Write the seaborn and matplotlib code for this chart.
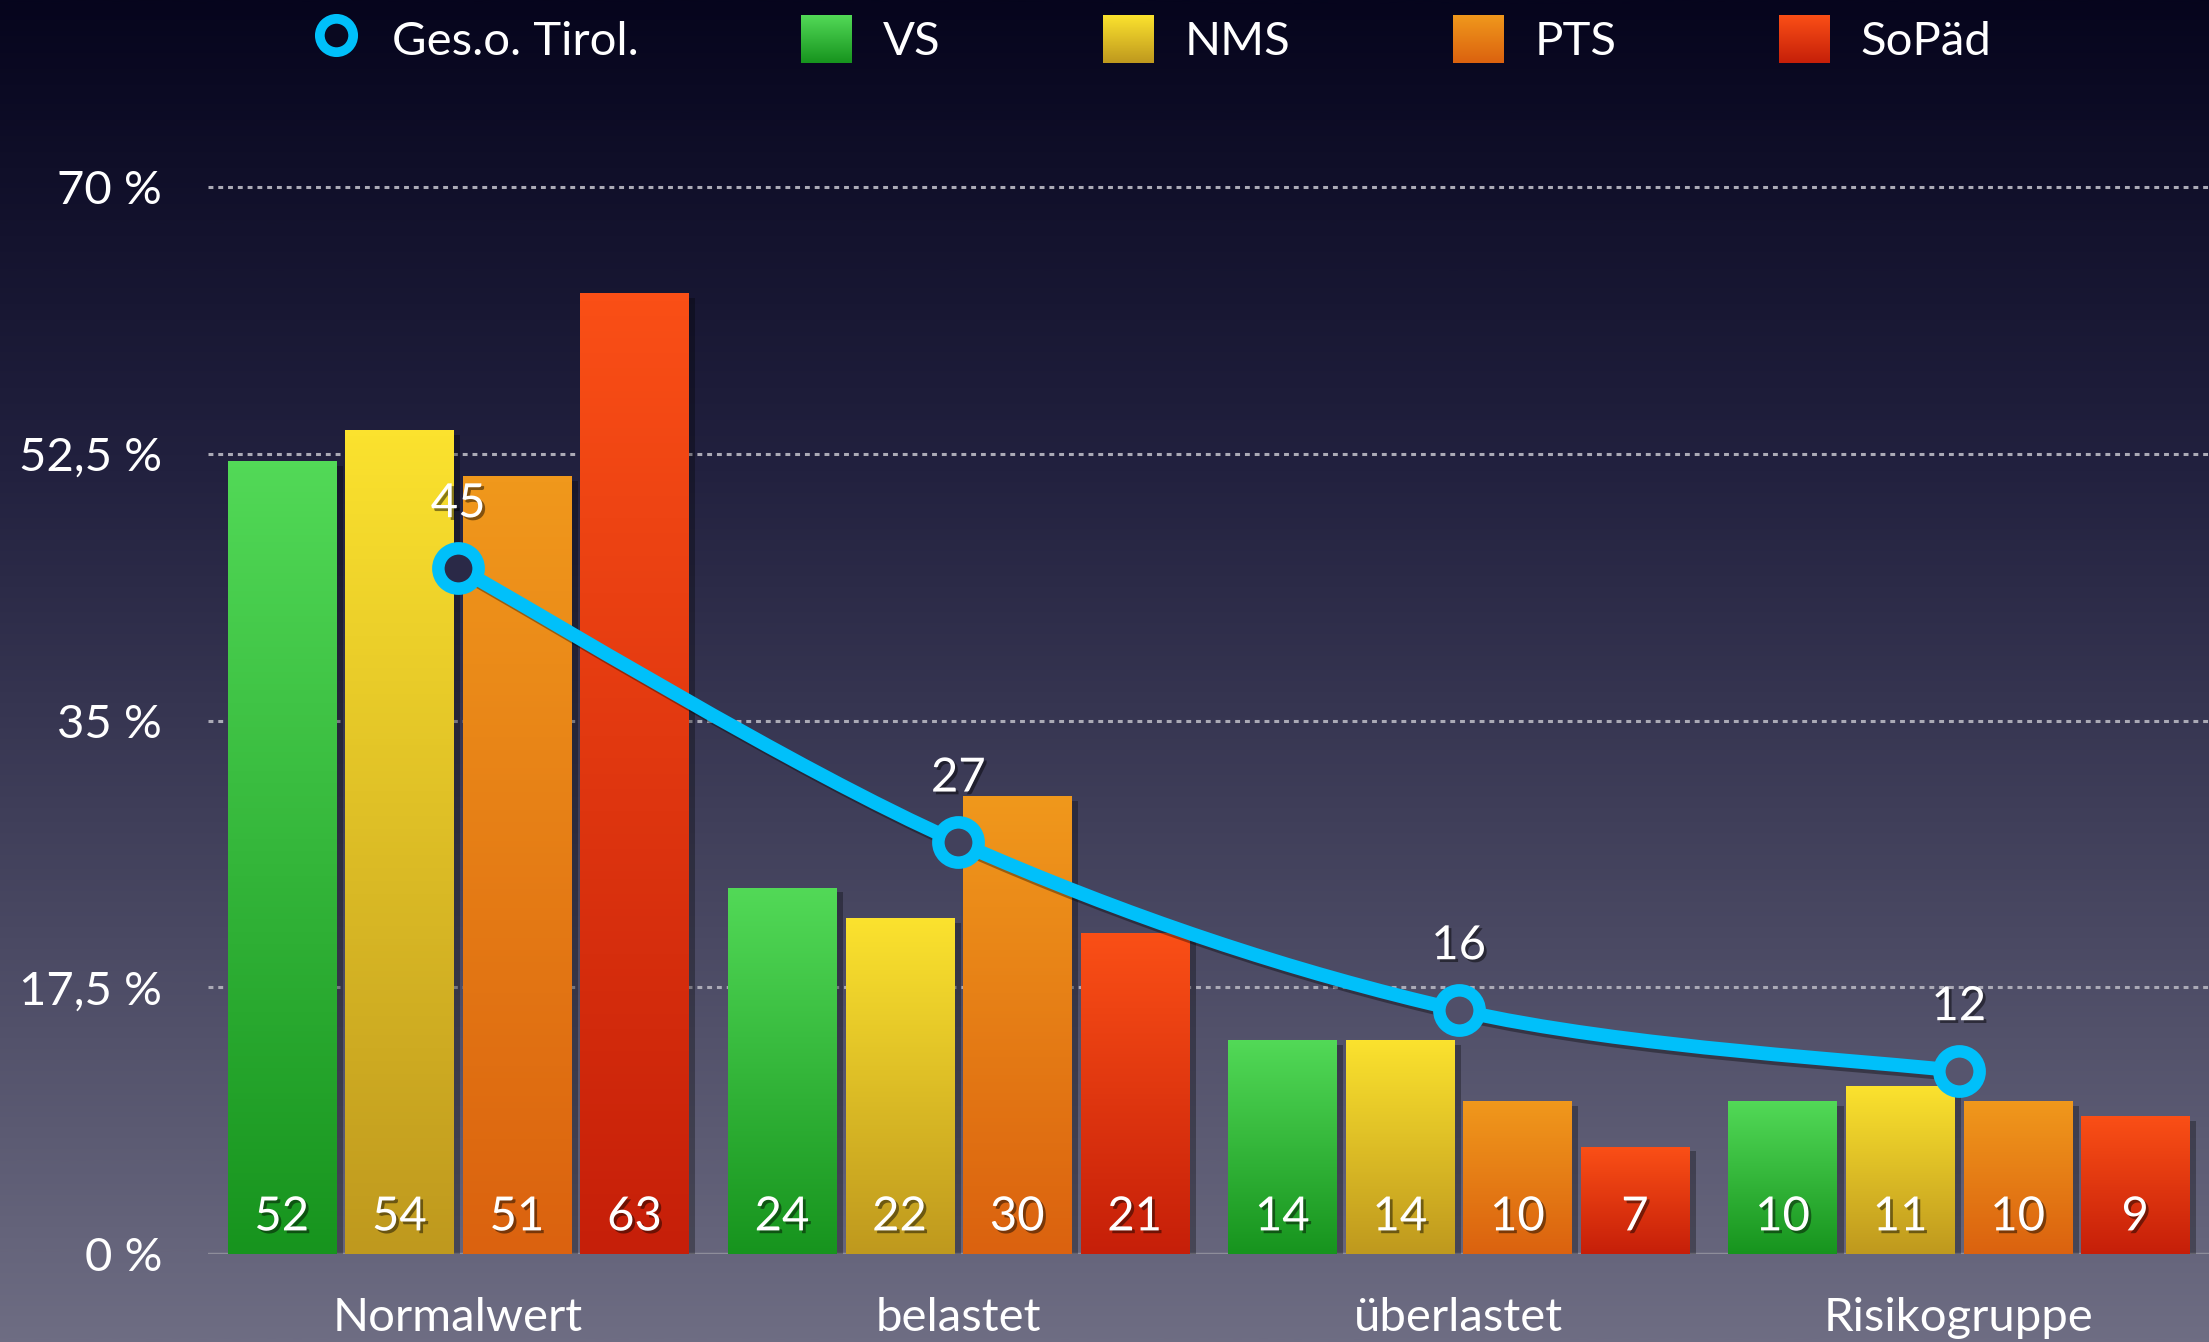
import numpy as np
import pandas as pd
import matplotlib
matplotlib.use("Agg")
import matplotlib.pyplot as plt
import matplotlib.patheffects as pe
from matplotlib.colors import LinearSegmentedColormap
from matplotlib.path import Path
from matplotlib.patches import PathPatch, Patch
from matplotlib.lines import Line2D
import seaborn as sns

# data
categories = ["Normalwert", "belastet", "überlastet", "Risikogruppe"]
schools = ["VS", "NMS", "PTS", "SoPäd"]
vs = [52, 24, 14, 10]
nms = [54, 22, 14, 11]
pts = [51, 30, 10, 10]
sopaed = [63, 21, 7, 9]
tirol = [45, 27, 16, 12]
line_label = "Ges.o. Tirol."
yticks = [0, 17.5, 35, 52.5, 70]
ytick_labels = ["0 %", "17,5 %", "35 %", "52,5 %", "70 %"]

# colours (top / bottom of each bar gradient)
top_cols = {"VS": "#52D957", "NMS": "#FBE22E", "PTS": "#F0981C", "SoPäd": "#FA4F16"}
bot_cols = {"VS": "#17941E", "NMS": "#BF991E", "PTS": "#DB620F", "SoPäd": "#C61F09"}
cyan = "#00C0FA"

rows = []
for i, cat in enumerate(categories):
    for name, vals in zip(schools, [vs, nms, pts, sopaed]):
        rows.append((cat, name, vals[i]))
df = pd.DataFrame(rows, columns=["Kategorie", "Schulart", "Wert"])

sns.set_theme(style="white")
plt.rcParams["font.family"] = ["Lato", "DejaVu Sans"]

W, H = 2209, 1342
fig = plt.figure(figsize=(W / 100, H / 100), dpi=100)

# background gradient
bg_cmap = LinearSegmentedColormap.from_list(
    "bg", [(0, "#06051D"), (0.35, "#22213F"), (0.7, "#4A4963"), (1, "#6E6D83")])
bg = fig.add_axes([0, 0, 1, 1], zorder=-10)
bg.imshow(np.linspace(0, 1, 512).reshape(-1, 1), cmap=bg_cmap, aspect="auto",
          extent=(0, 1, 0, 1), origin="upper")
bg.axis("off")

ax = fig.add_axes([208 / W, 1 - 1254 / H, 1 - 208 / W, 1254 / H])
ax.set_facecolor("none")

sns.barplot(data=df, x="Kategorie", y="Wert", hue="Schulart", hue_order=schools,
            order=categories, palette=bot_cols, saturation=1, width=0.94, gap=0.08,
            linewidth=0, legend=False, ax=ax, zorder=2)

shadow_txt = [pe.withSimplePatchShadow(offset=(2, -2), shadow_rgbFace="black", alpha=0.45)]
grads = {s: LinearSegmentedColormap.from_list(s, [bot_cols[s], top_cols[s]]) for s in schools}

for container, name, vals in zip(ax.containers, schools, [vs, nms, pts, sopaed]):
    for bar, v in zip(container, vals):
        x, w, h = bar.get_x(), bar.get_width(), bar.get_height()
        bar.set_path_effects([pe.SimplePatchShadow(offset=(5, -3), shadow_rgbFace="black", alpha=0.3),
                              pe.Normal()])
        ax.imshow(np.linspace(0, 1, 128).reshape(-1, 1), cmap=grads[name], origin="lower",
                  extent=(x, x + w, 0, h), aspect="auto", zorder=2.1)
        ax.text(x + w / 2, 2.4, str(v), ha="center", va="center", color="white",
                fontsize=34, zorder=5, path_effects=shadow_txt)

ax.set_xlim(-0.5, 3.5)
ax.set_ylim(0, 1254 * 70 / 1067)

# grid
for t in yticks[1:]:
    ax.axhline(t, color="#ABAAB6", lw=2.2, ls=(0, (1.6, 1.6)), zorder=0.5)
ax.axhline(0, color="#8E8D9A", lw=2.5, zorder=0.5)

# smooth line through the Tirol values (cubic Bezier rendering)
xy = np.column_stack([np.arange(len(tirol)), tirol]).astype(float)
ext = np.vstack([xy[0], xy, xy[-1]])
verts = [xy[0]]
codes = [Path.MOVETO]
for i in range(len(xy) - 1):
    p0, p1, p2, p3 = ext[i], ext[i + 1], ext[i + 2], ext[i + 3]
    verts += [p1 + (p2 - p0) / 6, p2 - (p3 - p1) / 6, p2]
    codes += [Path.CURVE4] * 3
curve = PathPatch(Path(verts, codes), fill=False, edgecolor=cyan, lw=10,
                  capstyle="round", zorder=6)
curve.set_path_effects([pe.SimpleLineShadow(offset=(3, -3), shadow_color="black", alpha=0.35),
                        pe.Normal()])
ax.add_patch(curve)

for i, v in enumerate(tirol):
    px, py = ax.transData.transform((i, v))
    face = bg_cmap(1 - py / H)
    ax.plot(i, v, "o", ms=29, mew=9, mec=cyan, mfc=face, zorder=7)
    ax.annotate(str(v), (i, v), xytext=(0, 46), textcoords="offset points",
                ha="center", va="center", fontsize=34, color="white", zorder=8,
                path_effects=shadow_txt)

ax.set_yticks(yticks, ytick_labels)
ax.set_xlabel("")
ax.set_ylabel("")
ax.tick_params(axis="both", colors="white", labelsize=34, length=0)
ax.tick_params(axis="y", pad=33)
ax.tick_params(axis="x", pad=31)
for s in ax.spines.values():
    s.set_visible(False)

# legend
handles = [Line2D([], [], marker="o", ls="none", ms=24, mew=7, mec=cyan, mfc="#0A0920")]
handles += [Patch(facecolor=bot_cols[s], linewidth=0) for s in schools]
leg = fig.legend(handles, [line_label] + schools, loc="center", bbox_to_anchor=(0.521, 0.971),
                 ncol=5, frameon=False, fontsize=34, labelcolor="white",
                 handlelength=1.07, handleheight=1.18, handletextpad=0.65,
                 columnspacing=3.45, borderpad=0)

# gradient fill for the legend swatches
fig.canvas.draw()
for patch, s in zip(leg.get_patches(), schools):
    bb = patch.get_window_extent().transformed(fig.transFigure.inverted())
    sw = fig.add_axes([bb.x0, bb.y0, bb.width, bb.height], zorder=20)
    sw.imshow(np.linspace(0, 1, 64).reshape(-1, 1), cmap=grads[s], origin="lower",
              aspect="auto", extent=(0, 1, 0, 1))
    sw.set_xlim(0, 1)
    sw.set_ylim(0, 1)
    sw.axis("off")

fig.savefig("out.png", dpi=100)
